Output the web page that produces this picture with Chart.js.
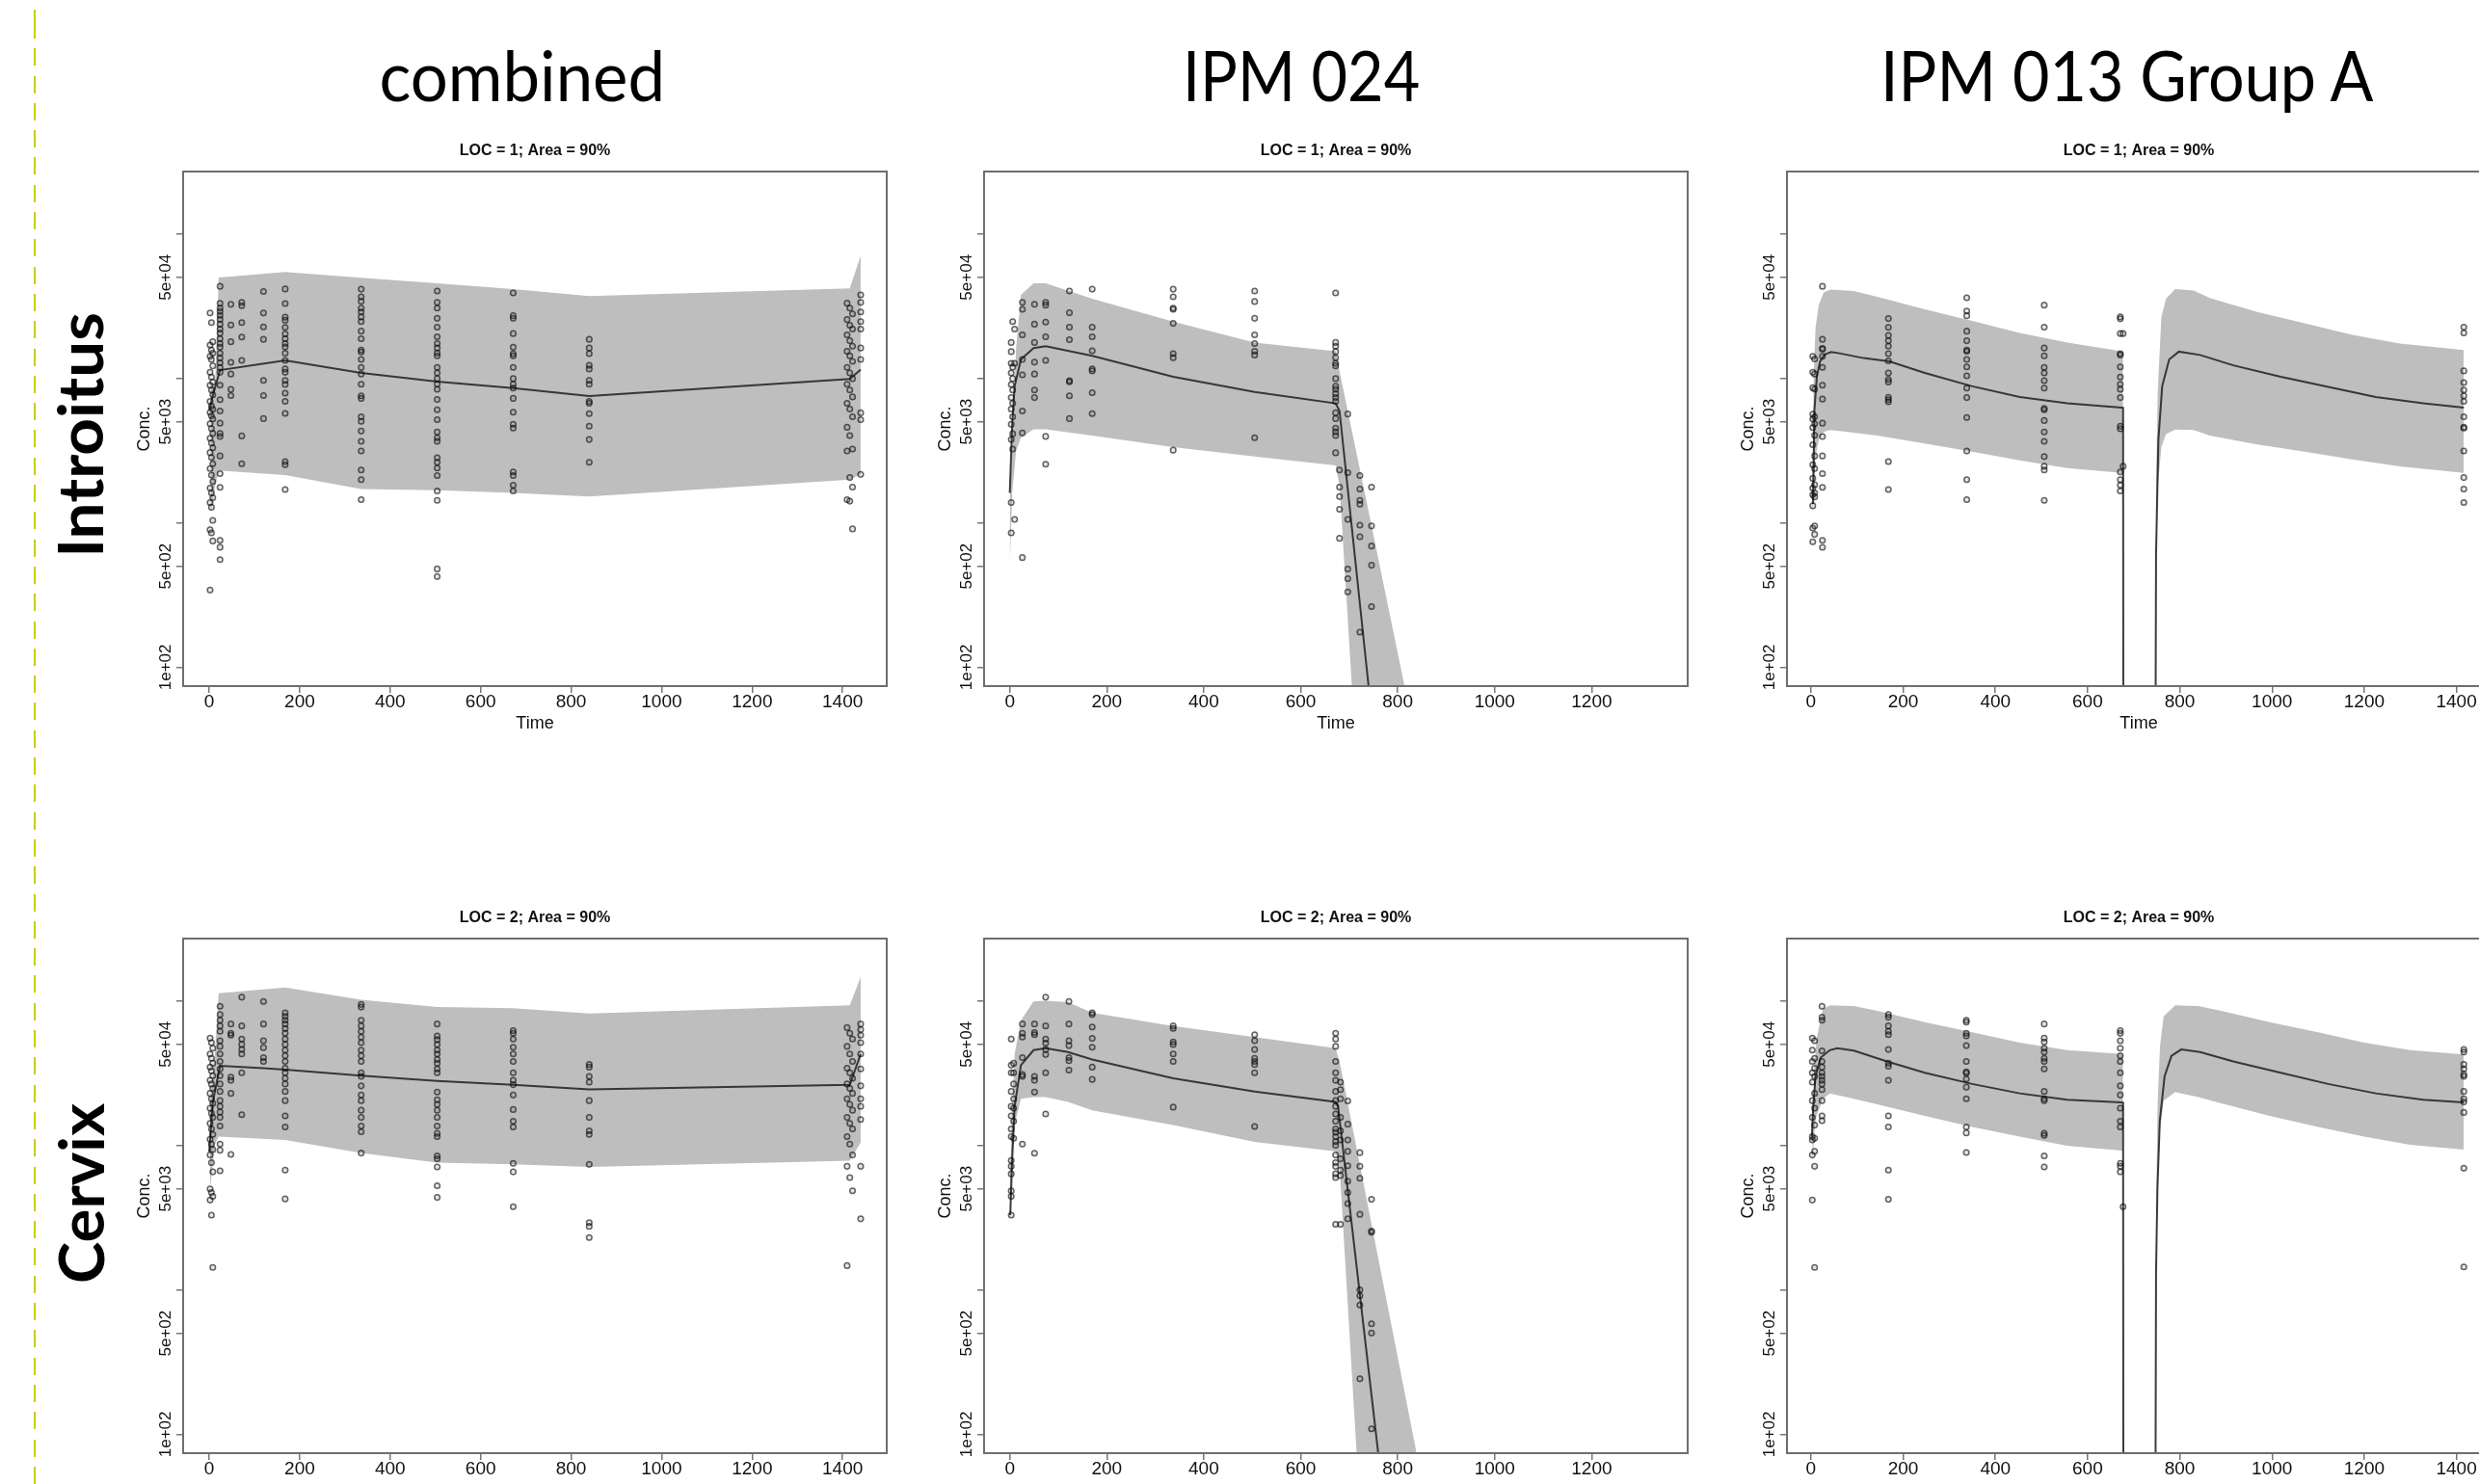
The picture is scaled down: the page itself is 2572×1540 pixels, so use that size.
<!DOCTYPE html>
<html>
<head>
<meta charset="utf-8">
<script src="https://cdn.jsdelivr.net/npm/chart.js@4.4.1/dist/chart.umd.min.js"></script>
<style>
  html, body { margin: 0; padding: 0; background: #fff; overflow: hidden; }
  body { width: 2572px; height: 1540px; position: relative; }
  .dash { position: absolute; left: 34.5px; top: 0; width: 2.6px; height: 1540px;
          background: repeating-linear-gradient(to bottom, #cccc10 0px, #cccc10 18px, transparent 18px, transparent 28.3px);
          background-position: 0 22px; }
  .col-title { position: absolute; font-family: Lato, 'Open Sans', sans-serif; font-size: 71px;
               line-height: 71px; white-space: nowrap; color: #000; }
  .row-title { position: absolute; font-family: Lato, 'Open Sans', sans-serif; font-weight: 700;
               font-size: 65px; line-height: 65px; white-space: nowrap; color: #000; }
  canvas.panel { position: absolute; }
</style>
</head>
<body>
<div class="dash"></div>
<div id="titles"></div>

<script>
// ---- axes / text ----
const xTicksLong = [0, 200, 400, 600, 800, 1000, 1200, 1400];
const xTicksShort = [0, 200, 400, 600, 800, 1000, 1200];
const yTickValues = [100, 500, 1000, 5000, 10000, 50000, 100000];
const yTickLabels = ['1e+02', '5e+02', '', '5e+03', '', '5e+04', ''];
const yMin = 74, yMax = 270000;
const columnTitles = ['combined', 'IPM 024', 'IPM 013 Group A'];
const rowTitles = ['Introitus', 'Cervix'];
const panelTitles = ['LOC = 1; Area = 90%', 'LOC = 2; Area = 90%'];

// ---- panel 1: combined, LOC 1 ----
const p1BandTime = [3, 13, 21, 168, 336, 504, 672, 840, 1416, 1440];
const p1BandHi = [8900, 8900, 49800, 54400, 49700, 45400, 41400, 37100, 41900, 70300];
const p1BandLo = [1160, 1800, 2300, 2140, 1710, 1680, 1610, 1520, 1990, 2160];
const p1MedTime = [0, 10, 24, 168, 336, 504, 672, 840, 1416, 1440];
const p1Med = [6000, 8000, 11400, 13300, 10900, 9480, 8550, 7530, 9880, 11500];
const p1ObsTime = [2, 5, 8, 24, 48, 72, 120, 168, 336, 504, 672, 840, 1410, 1416, 1422, 1440];
const p1ObsConc = [
  [28300, 17000, 14200, 11000, 8950, 6930, 5800, 4840, 3850, 3060, 2370, 1740, 1380, 895, 342],
  [24300, 15700, 13500, 10200, 8290, 6420, 5500, 4490, 3560, 2830, 2140, 1610, 1280, 851],
  [17900, 14900, 12200, 9420, 7680, 6100, 5230, 4150, 3300, 2560, 1930, 1490, 1040, 748],
  [43300, 33000, 30600, 29000, 27300, 25600, 23700, 21900, 20500, 18800, 17400, 16400, 14900, 13800, 12800, 11900, 11000, 8950, 7110, 5940, 4890, 4150, 3950, 2900, 2190, 1760, 756, 677, 556],
  [32500, 23400, 17900, 12900, 10700, 8380, 7600],
  [33500, 31800, 24300, 19300, 13300, 3990, 2560],
  [39900, 28300, 22700, 18600, 9670, 7600, 5260],
  [41500, 32900, 26500, 25200, 22500, 20300, 18800, 17400, 16500, 14900, 13300, 11600, 11000, 9670, 9050, 7890, 6930, 5710, 2650, 2520, 1700],
  [41400, 36700, 34100, 30600, 28800, 26600, 24700, 21200, 18800, 15700, 15200, 13500, 11900, 10700, 9090, 7570, 7260, 5420, 5040, 4310, 3660, 3140, 2320, 1990, 1445],
  [40200, 33500, 30600, 26000, 22600, 19400, 17400, 16200, 15000, 14300, 11900, 10900, 9950, 9090, 8400, 7130, 6050, 5170, 4250, 3880, 3660, 2820, 2620, 2390, 2120, 1660, 1430, 479, 424],
  [39000, 27100, 26000, 20400, 16400, 14800, 14300, 11900, 9950, 9090, 8550, 7260, 5830, 4810, 4520, 2250, 2120, 1820, 1660],
  [18600, 16200, 14800, 12300, 11600, 9670, 9090, 6920, 6710, 5690, 4660, 3770, 2620],
  [33100, 25500, 20000, 15400, 11900, 9090, 6710, 4580, 3140, 1445],
  [30600, 23300, 18200, 14300, 10900, 8290, 6120, 4010, 2055, 1410],
  [27900, 21900, 16700, 13100, 9950, 7430, 5420, 3240, 1765, 906],
  [37800, 33500, 28800, 24700, 21900, 16200, 13500, 5770, 5170, 2160]
];

// ---- panel 2: IPM 024, LOC 1 ----
const p2BandTime = [0, 5, 13, 23, 49, 74, 170, 337, 505, 672, 680, 730, 840];
const p2BandHi = [1610, 3140, 16200, 37800, 45400, 45400, 35600, 24700, 17700, 15400, 11200, 1740, 28];
const p2BandLo = [493, 1610, 3140, 3880, 4440, 4440, 4010, 3340, 2870, 2490, 1820, 3.4, 0.00001];
const p2MedTime = [0, 5, 10, 23, 49, 74, 170, 337, 505, 672, 680, 760];
const p2Med = [1610, 4810, 8810, 13500, 16200, 16700, 14300, 10250, 8050, 6710, 5940, 17];
const p2ObsTime = [3, 6, 10, 26, 51, 74, 123, 170, 337, 505, 672, 680, 697, 722, 746];
const p2ObsConc = [
  [17700, 15300, 12700, 10900, 9070, 7350, 6120, 4800, 3770, 1380, 850],
  [24700, 11960, 9950, 8300, 6710, 5420, 4130, 3240],
  [21900, 12700, 1055],
  [33500, 30000, 20000, 13500, 10570, 5940, 4180, 574],
  [32500, 23700, 17700, 12930, 10700, 8300, 7350],
  [33500, 32100, 24500, 19400, 13300, 3960, 2540],
  [40200, 28400, 22600, 18500, 9640, 9460, 7570, 5260],
  [41400, 22600, 19400, 15500, 11600, 11250, 7950, 5690],
  [41400, 36700, 30600, 30000, 24000, 14800, 13900, 3180],
  [40200, 34000, 26000, 20000, 17400, 15400, 14500, 3880],
  [39000, 17700, 16700, 15300, 13900, 12700, 12200, 9950, 8800, 8400, 7810, 7350, 6920, 5770, 5260, 4520, 4260, 4010, 3050],
  [2320, 1765, 1517, 1240, 780],
  [5660, 2220, 1055, 478, 410, 332],
  [2120, 1710, 1430, 1345, 962, 800, 175],
  [1765, 950, 690, 508, 263]
];

// ---- panel 3: IPM 013 Group A, LOC 1 (null = gap between dosing periods) ----
const p3BandTime = [3, 6, 10, 17, 28, 43, 93, 144, 247, 350, 453, 556, 674, 677, null, 748, 752, 760, 770, 790, 830, 865, 968, 1071, 1174, 1277, 1416];
const p3BandHi = [1400, 10400, 22500, 32200, 39500, 41100, 40200, 36700, 30000, 25000, 20600, 17700, 15400, 15300, null, 1500, 8000, 26300, 35600, 41400, 40500, 36000, 28800, 24000, 20000, 17400, 15700];
const p3BandLo = [1100, 1740, 2900, 3750, 4270, 4390, 4200, 4010, 3530, 3100, 2700, 2390, 2210, 2200, null, 1000, 1700, 3340, 4100, 4420, 4390, 4010, 3480, 3100, 2740, 2460, 2210];
const p3MedTime = [4.6, 7.4, 13, 20, 30, 44, 62, 114, 170, 247, 350, 453, 556, 674, 677, 678, null, 746, 748.5, 753.6, 761.8, 777, 798, 844, 916, 1019, 1122, 1225, 1328, 1416];
const p3Med = [1350, 5940, 10400, 13100, 14600, 15200, 14900, 13800, 13100, 10900, 8800, 7430, 6710, 6270, 6250, 1, null, 1, 610, 3770, 8810, 13500, 15300, 14500, 12300, 10250, 8710, 7430, 6710, 6270];
const p3ObsTime = [4, 8, 25, 168, 338, 506, 671, 677, 1416];
const p3ObsConc = [
  [14200, 11000, 8600, 5650, 5230, 4560, 3470, 2520, 2030, 1740, 1560, 1310, 919, 738],
  [13600, 10700, 8420, 5420, 4840, 4030, 2900, 2370, 1830, 1610, 1510, 952, 830],
  [43300, 18600, 16100, 15900, 14200, 11900, 8950, 7180, 4890, 3950, 2900, 2190, 1760, 756, 676],
  [25900, 22500, 19800, 18200, 16700, 14800, 13200, 10900, 9820, 9430, 7380, 7120, 6870, 2650, 1700],
  [36100, 29200, 27100, 21200, 18200, 15700, 15400, 13500, 12000, 10400, 8550, 7350, 5350, 3140, 1990, 1445],
  [32100, 22600, 16200, 14300, 11900, 10900, 9640, 8550, 6200, 6050, 5100, 4250, 3660, 2870, 2460, 2320, 1430],
  [26600, 25800, 20400, 14800, 14500, 12000, 10200, 9090, 8400, 7350, 4660, 4470, 2250, 1990, 1820, 1660],
  [20400, 2460],
  [22600, 20600, 11250, 9350, 8300, 7570, 6920, 5420, 4580, 4520, 3140, 2055, 1710, 1380]
];

// ---- panel 4: combined, LOC 2 ----
const p4BandTime = [2, 12, 21, 168, 336, 504, 672, 840, 1416, 1440];
const p4BandHi = [20000, 40000, 113000, 123600, 102000, 90600, 89000, 81800, 93300, 146000];
const p4BandLo = [5000, 10000, 11500, 10900, 8840, 7600, 7380, 7080, 7830, 10500];
const p4MedTime = [0, 8, 24, 120, 168, 336, 504, 672, 840, 1416, 1440];
const p4Med = [9000, 20000, 35500, 34200, 33400, 30400, 27900, 26200, 24400, 26200, 42900];
const p4ObsTime = [2, 5, 8, 24, 48, 72, 120, 168, 336, 504, 672, 840, 1410, 1416, 1422, 1440];
const p4ObsConc = [
  [55200, 42900, 34800, 28200, 22900, 18100, 14200, 11000, 8570, 5000, 4180],
  [51400, 40000, 32800, 26600, 21000, 16700, 13000, 10200, 7600, 4710, 3290],
  [47000, 37000, 30400, 24800, 19500, 15600, 11900, 9360, 6550, 4440, 1430],
  [91700, 80400, 73500, 67100, 61500, 53000, 48400, 42900, 38100, 33800, 30400, 26600, 23600, 20400, 18600, 17000, 15600, 13600, 10200, 9250, 6660],
  [69200, 59700, 57900, 29700, 28200, 22900, 8660],
  [106000, 67100, 54500, 49900, 46100, 42900, 31800, 16300],
  [99100, 69200, 53000, 47500, 40500, 38100],
  [82800, 78000, 73500, 69200, 64400, 59700, 54500, 49900, 45600, 41700, 38100, 34200, 31800, 29100, 26600, 23600, 20400, 16000, 13400, 6740, 4260],
  [94500, 90600, 73500, 67100, 61500, 56200, 51400, 45600, 41700, 38100, 31800, 30000, 25800, 22300, 20400, 17500, 15600, 13600, 12400, 8840],
  [69200, 57200, 53900, 49900, 45600, 42900, 39300, 37000, 33800, 31800, 23400, 20700, 19200, 17500, 15600, 13600, 12100, 11500, 8460, 8070, 7080, 5250, 4360],
  [62200, 59700, 54500, 47800, 42900, 38100, 31800, 28200, 26300, 22300, 17700, 14700, 13400, 7510, 6550, 3760],
  [36300, 34800, 30000, 27400, 20400, 15600, 12600, 11900, 7380, 2920, 2750, 2300],
  [65300, 48400, 34200, 26600, 21000, 15600, 11500, 7160, 1470],
  [59700, 42900, 31800, 24800, 19200, 14200, 10200, 5980],
  [54500, 38100, 29100, 22900, 17500, 13000, 8570, 4850],
  [69200, 63300, 57900, 51400, 42900, 33800, 25800, 21000, 18600, 15100, 7160, 3100]
];

// ---- panel 5: IPM 024, LOC 2 ----
const p5BandTime = [0, 5, 10, 23, 49, 74, 120, 170, 337, 505, 672, 680, 730, 840, 860];
const p5BandHi = [5150, 18600, 42900, 73500, 99100, 100300, 98000, 82800, 67100, 56200, 47000, 38100, 5350, 71, 32];
const p5BandLo = [2750, 8070, 13800, 21000, 21600, 21600, 20000, 17500, 13800, 10550, 9080, 7160, 11, 0.00001, 0.00001];
const p5MedTime = [1, 5, 10, 23, 49, 74, 120, 170, 337, 505, 672, 677, 778];
const p5Med = [3290, 8070, 18600, 35900, 45600, 47000, 44300, 39300, 29100, 23600, 20000, 18600, 22];
const p5ObsTime = [3, 8, 26, 51, 74, 122, 170, 337, 505, 672, 682, 697, 722, 746];
const p5ObsConc = [
  [54500, 35900, 31800, 23600, 18600, 16000, 13000, 11500, 7860, 7160, 6350, 4850, 4440, 3290],
  [37000, 31800, 26600, 21000, 18100, 14700, 11200],
  [69200, 59700, 56200, 40500, 30900, 30000, 10200],
  [69200, 60400, 58400, 30000, 28200, 23400, 8830],
  [106000, 67100, 54500, 51000, 46100, 42500, 31800, 16500],
  [99100, 69200, 53000, 49000, 40500, 38600, 33200],
  [82800, 80400, 66000, 55000, 47800, 34800, 28600],
  [67100, 64400, 52000, 49900, 42900, 38100, 18400],
  [58400, 53000, 46100, 40000, 38100, 36300, 31800, 13500],
  [59700, 54500, 48400, 38100, 31800, 28200, 23600, 20400, 18600, 16500, 14700, 13000, 12300, 11500, 10600, 10000, 8570, 7600, 7160, 6350, 5980, 2840],
  [27400, 24300, 21000, 15600, 12600, 10900, 8060, 6740, 6170, 2840],
  [20300, 14000, 10900, 9080, 7230, 5650, 4720, 3950, 3100],
  [8900, 7160, 5910, 3330, 1000, 912, 785, 242],
  [4230, 2550, 2500, 582, 502, 109]
];

// ---- panel 6: IPM 013 Group A, LOC 2 ----
const p6BandTime = [3, 8, 12, 26, 41, 93, 144, 247, 350, 453, 556, 674, 677, null, 749, 752, 757, 765, 790, 840, 890, 995, 1100, 1200, 1300, 1416];
const p6BandHi = [12200, 35900, 54500, 87900, 93300, 92200, 85300, 71300, 60700, 51400, 45600, 42900, 42800, null, 5000, 19800, 48400, 78000, 93300, 92200, 85300, 71300, 60700, 51400, 45600, 42500];
const p6BandLo = [7510, 13000, 16000, 21000, 22900, 21000, 19200, 16000, 13400, 11500, 9940, 9200, 9180, null, 3000, 5000, 13000, 20400, 23400, 21600, 19500, 16000, 13400, 11500, 10100, 9360];
const p6MedTime = [2, 5, 10, 21, 41, 57, 93, 165, 247, 350, 453, 556, 674, 677, 678, null, 746, 748.5, 751.5, 756.6, 767, 782, 803, 844, 916, 1019, 1122, 1225, 1328, 1416];
const p6Med = [11500, 18600, 30000, 40500, 45600, 47000, 45300, 38100, 31800, 26600, 22900, 20700, 19800, 19750, 1, null, 1, 1340, 5000, 14700, 30000, 41700, 46100, 44300, 38100, 31800, 26600, 22900, 20700, 19800];
const p6ObsTime = [3, 8, 24, 168, 337, 506, 671, 677, 1416];
const p6ObsConc = [
  [55200, 45600, 38100, 31800, 27400, 20400, 15600, 11500, 10900, 8570, 4180],
  [53000, 40000, 34200, 30000, 22900, 18100, 13800, 11200, 9080, 7160, 1430],
  [91700, 77100, 73500, 45100, 38100, 34800, 31800, 30000, 28200, 26600, 24300, 20400, 16000, 14800],
  [80400, 77100, 67100, 61500, 58400, 46100, 37000, 35300, 28200, 16000, 13400, 6740, 4230],
  [73500, 71300, 59700, 57200, 49000, 38100, 32300, 31600, 28800, 25300, 21000, 13400, 12200, 8930],
  [69200, 55200, 52000, 47000, 44200, 40000, 38100, 33800, 23600, 21000, 20400, 12100, 11700, 8460, 7080],
  [62200, 59700, 53000, 47000, 41700, 38100, 31800, 25800, 22300, 18100, 14700, 13400, 7510, 7160, 6550],
  [3760],
  [46100, 44200, 36300, 33800, 30900, 30000, 23600, 21000, 20000, 16900, 6950, 1440]
];

// ---- layout ----
const colLeft = [190, 1021, 1854];
const rowTop = [178, 974];
const boxW = 730, boxH = 534, axisW = 60, titleH = 40, axisH = 50, padRight = 10;
const colRange = [[-57.6, 1497.6], [-53, 1398], [-52, 1474]];
const colTicks = [xTicksLong, xTicksShort, xTicksLong];

const panels = [
  { row: 0, col: 0, band: [p1BandTime, p1BandLo, p1BandHi], med: [p1MedTime, p1Med], obs: [p1ObsTime, p1ObsConc] },
  { row: 0, col: 1, band: [p2BandTime, p2BandLo, p2BandHi], med: [p2MedTime, p2Med], obs: [p2ObsTime, p2ObsConc] },
  { row: 0, col: 2, band: [p3BandTime, p3BandLo, p3BandHi], med: [p3MedTime, p3Med], obs: [p3ObsTime, p3ObsConc] },
  { row: 1, col: 0, band: [p4BandTime, p4BandLo, p4BandHi], med: [p4MedTime, p4Med], obs: [p4ObsTime, p4ObsConc] },
  { row: 1, col: 1, band: [p5BandTime, p5BandLo, p5BandHi], med: [p5MedTime, p5Med], obs: [p5ObsTime, p5ObsConc] },
  { row: 1, col: 2, band: [p6BandTime, p6BandLo, p6BandHi], med: [p6MedTime, p6Med], obs: [p6ObsTime, p6ObsConc] }
];

const RFONT = "'Liberation Sans', Arial, sans-serif";

// split x/y arrays into point runs at null entries
function segments(xs, ys) {
  const segs = [];
  let cur = [];
  xs.forEach((x, i) => {
    if (x === null) { if (cur.length) segs.push(cur); cur = []; }
    else cur.push({ x: x, y: ys[i] });
  });
  if (cur.length) segs.push(cur);
  return segs;
}

const boxPlugin = {
  id: 'box',
  afterDraw(chart) {
    const { ctx, chartArea: a } = chart;
    ctx.save();
    ctx.strokeStyle = '#6e6e6e';
    ctx.lineWidth = 2;
    ctx.strokeRect(a.left, a.top, a.right - a.left, a.bottom - a.top);
    ctx.restore();
  }
};

function buildPanel(p) {
  const canvas = document.createElement('canvas');
  canvas.className = 'panel';
  const w = axisW + boxW + padRight, h = titleH + boxH + axisH;
  canvas.width = w; canvas.height = h;
  canvas.style.left = (colLeft[p.col] - axisW) + 'px';
  canvas.style.top = (rowTop[p.row] - titleH) + 'px';
  canvas.style.width = w + 'px'; canvas.style.height = h + 'px';
  document.body.appendChild(canvas);

  const datasets = [];
  // observations (drawn on top)
  const obsPts = [];
  p.obs[0].forEach((t, i) => p.obs[1][i].forEach(v => obsPts.push({ x: t, y: v })));
  datasets.push({
    data: obsPts, showLine: false, pointRadius: 2.8, pointBorderWidth: 1.5,
    pointBorderColor: 'rgba(10,10,10,0.62)', pointBackgroundColor: 'rgba(60,60,60,0.12)', order: 0
  });
  // median
  segments(p.med[0], p.med[1]).forEach(seg => datasets.push({
    data: seg, borderColor: 'rgba(40,40,40,0.9)', borderWidth: 2, pointRadius: 0, fill: false, order: 1
  }));
  // 90% band
  const loSegs = segments(p.band[0], p.band[1]);
  const hiSegs = segments(p.band[0], p.band[2]);
  loSegs.forEach((seg, k) => {
    datasets.push({ data: seg, borderWidth: 0, borderColor: 'rgba(0,0,0,0)', pointRadius: 0, fill: false, order: 2 });
    datasets.push({ data: hiSegs[k], borderWidth: 0, borderColor: 'rgba(0,0,0,0)', pointRadius: 0,
                    fill: '-1', backgroundColor: '#bebebe', order: 2 });
  });

  const xt = colTicks[p.col];
  new Chart(canvas, {
    type: 'line',
    data: { datasets: datasets },
    options: {
      responsive: false, animation: false, devicePixelRatio: 1,
      layout: { padding: { left: 0, right: padRight, top: 0, bottom: 0 } },
      plugins: {
        legend: { display: false }, tooltip: { enabled: false },
        title: {
          display: true, text: panelTitles[p.row], fullSize: false, color: '#111',
          font: { family: RFONT, size: 16, weight: 'bold' }, padding: { top: 9.4, bottom: 11.4 }
        }
      },
      scales: {
        x: {
          type: 'linear', min: colRange[p.col][0], max: colRange[p.col][1],
          afterBuildTicks: s => { s.ticks = xt.map(v => ({ value: v })); },
          afterFit: s => { s.height = axisH; },
          ticks: { font: { family: RFONT, size: 19 }, color: '#111', padding: -1.4, maxRotation: 0, autoSkip: false,
                   callback: v => String(v) },
          grid: { drawOnChartArea: false, drawTicks: true, tickLength: 7, color: '#777', lineWidth: 1.5 },
          border: { display: false },
          // the lower row's axis title falls below the cropped slide edge
          title: { display: p.row === 0, text: 'Time', color: '#111', font: { family: RFONT, size: 18 }, padding: { top: 0, bottom: 0 } }
        },
        y: {
          type: 'logarithmic', min: yMin, max: yMax,
          afterBuildTicks: s => { s.ticks = yTickValues.map(v => ({ value: v })); },
          afterFit: s => { s.width = axisW; },
          ticks: { font: { family: RFONT, size: 17 }, color: '#111', minRotation: 90, maxRotation: 90,
                   crossAlign: 'center', padding: -13.4, autoSkip: false,
                   callback: v => yTickLabels[yTickValues.indexOf(v)] },
          grid: { drawOnChartArea: false, drawTicks: true, tickLength: 7, color: '#777', lineWidth: 1.5 },
          border: { display: false },
          title: { display: true, text: 'Conc.', color: '#111', font: { family: RFONT, size: 18 }, padding: { top: 8.8, bottom: 0 } }
        }
      }
    },
    plugins: [boxPlugin]
  });
}

panels.forEach(buildPanel);

// ---- slide labels (real text, fitted to measured widths) ----
const colTitleX = [542, 1350, 2207];
const colTitleW = [297, 246, 512];
const rowTitleY = [451, 1238];
const rowTitleW = [255, 187];

function place(el, cx, cy, targetW, rotated) {
  const w = el.offsetWidth, h = el.offsetHeight;
  el.style.left = (cx - w / 2) + 'px';
  el.style.top = (cy - h / 2) + 'px';
  el.style.transform = (rotated ? 'rotate(-90deg) ' : '') + 'scaleX(' + (targetW / w).toFixed(4) + ')';
}

const holder = document.getElementById('titles');
columnTitles.forEach((t, i) => {
  const el = document.createElement('div');
  el.className = 'col-title'; el.textContent = t;
  holder.appendChild(el);
  place(el, colTitleX[i], 77.5, colTitleW[i], false);
});
rowTitles.forEach((t, i) => {
  const el = document.createElement('div');
  el.className = 'row-title'; el.textContent = t;
  holder.appendChild(el);
  place(el, 83, rowTitleY[i], rowTitleW[i], true);
});
</script>
</body>
</html>
